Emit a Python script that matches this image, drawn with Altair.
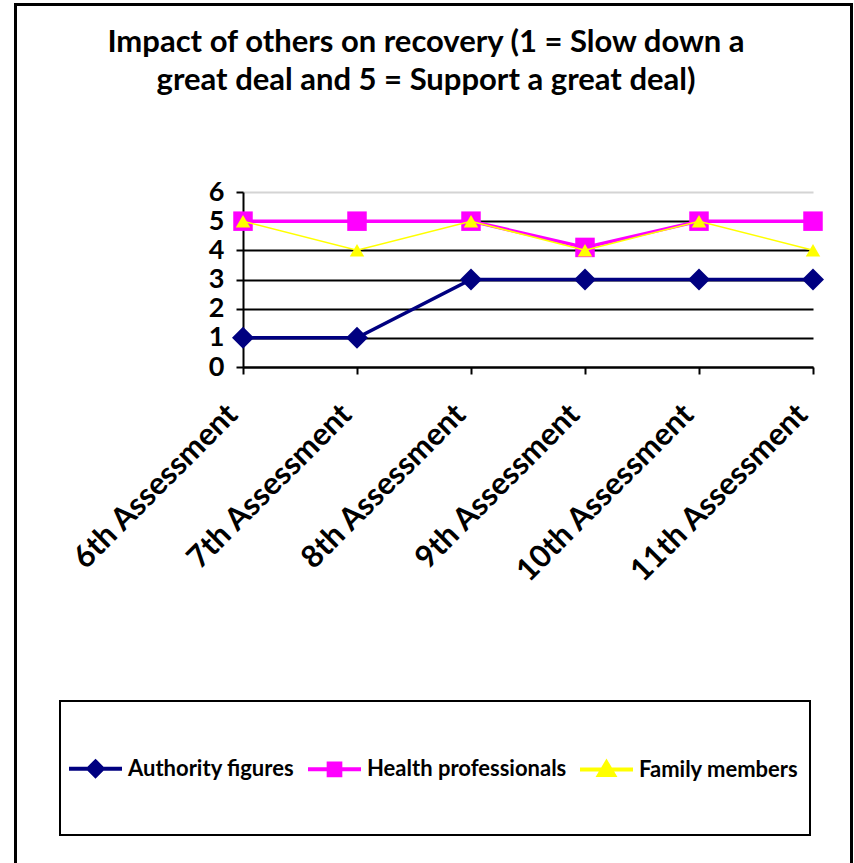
import altair as alt
import pandas as pd

# Ratings per assessment for each group of people
assessments = ["6th Assessment", "7th Assessment", "8th Assessment",
               "9th Assessment", "10th Assessment", "11th Assessment"]
series = ["Authority figures", "Health professionals", "Family members"]
authority = [1, 1, 3, 3, 3, 3]
health = [5, 5, 5, 4.1, 5, 5]
family = [5, 4, 5, 4, 5, 4]
y_ticks = [0, 1, 2, 3, 4, 5, 6]

colors = ["#000080", "#FF00FF", "#FFFF00"]
line_widths = [3.5, 3.5, 1.5]
marker_shapes = ["diamond", "square", "triangle-up"]
marker_sizes = [484, 380, 210]
# legend swatches: a short line with the marker in its middle
legend_paths = [
    "M-1,0H1M0,-0.27L0.27,0L0,0.27L-0.27,0Z",
    "M-1,0H1M-0.22,-0.22H0.22V0.22H-0.22Z",
    "M-1,0H1M0,-0.27L0.28,0.2H-0.28Z",
]
legend_strokes = [4, 4, 2]

FONT = "Lato"

rows = []
for name, vals in zip(series, [authority, health, family]):
    for a, v in zip(assessments, vals):
        rows.append({"assessment": a, "series": name, "value": v})
df = pd.DataFrame(rows)

x_axis = alt.Axis(
    title=None, grid=False, labelAngle=-45, labelAlign="right",
    labelBaseline="top", labelPadding=25, labelOffset=-21, labelLimit=500,
    labelOverlap=False, labelFontSize=31, tickSize=7, tickWidth=2,
    tickColor="black", domainColor="black", domainWidth=2,
)
y_axis = alt.Axis(
    title=None, values=y_ticks, format="d", grid=True, labelOverlap=False,
    gridColor={"condition": {"test": "datum.value === 6", "value": "#d4d4d4"},
               "value": "black"},
    gridWidth=2, labelFontSize=27, labelPadding=12, tickSize=7,
    tickWidth=2, tickColor="black", domainColor="black", domainWidth=2,
)
y_scale = alt.Scale(domain=[0, 6], nice=False, zero=True)
x_enc = alt.X("assessment:N", sort=assessments,
              scale=alt.Scale(type="point", padding=0), axis=x_axis)
y_enc = alt.Y("value:Q", scale=y_scale, axis=y_axis)

layers = []
for i, name in enumerate(series):
    sub = df[df["series"] == name]
    base = alt.Chart(sub).encode(x=x_enc, y=y_enc)
    layers.append(base.mark_line(color=colors[i], strokeWidth=line_widths[i], clip=False))
    layers.append(base.mark_point(filled=True, opacity=1, shape=marker_shapes[i],
                                  size=marker_sizes[i], color=colors[i], clip=False))

# Legend carrier: same series, pushed below the y domain and clipped away
legend_spec = alt.Legend(
    title=None, orient="none", legendX=-176, legendY=548, direction="horizontal",
    columns=3, symbolSize=2809, labelFont=FONT, labelFontSize=22,
    labelFontWeight="bold", labelColor="black", labelOffset=4, columnPadding=5,
    labelLimit=400,
)
legend_layer = alt.Chart(df).transform_calculate(off="-1").mark_point(
    filled=True, opacity=1, clip=True
).encode(
    x=x_enc,
    y=alt.Y("off:Q", scale=y_scale, axis=y_axis),
    fill=alt.Fill("series:N", scale=alt.Scale(domain=series, range=colors), legend=legend_spec),
    stroke=alt.Stroke("series:N", scale=alt.Scale(domain=series, range=colors), legend=legend_spec),
    shape=alt.Shape("series:N", scale=alt.Scale(domain=series, range=legend_paths), legend=legend_spec),
    strokeWidth=alt.StrokeWidth("series:N", scale=alt.Scale(domain=series, range=legend_strokes), legend=legend_spec),
)

frame_src = pd.DataFrame({"k": [0]})
# Outer chart frame
outer = alt.Chart(frame_src).mark_rect(
    fillOpacity=0, stroke="black", strokeWidth=3, clip=False
).encode(
    x=alt.value(-227.5), x2=alt.value(608.5), y=alt.value(-187.5), y2=alt.value(690)
)
# Box around the legend
legend_box = alt.Chart(frame_src).mark_rect(
    fillOpacity=0, stroke="black", strokeWidth=2, clip=False
).encode(
    x=alt.value(-183), x2=alt.value(567), y=alt.value(509), y2=alt.value(643)
)

chart = alt.layer(*layers, legend_layer, outer, legend_box).properties(
    width=570,
    height=175,
    autosize=alt.AutoSizeParams(type="none"),
    padding={"left": 243, "top": 192, "right": 41, "bottom": 496},
    background="white",
    title=alt.Title(
        ["Impact of others on recovery (1 = Slow down a",
         "great deal and 5 = Support a great deal)"],
        font=FONT, fontSize=31, fontWeight="bold", color="black",
        anchor="middle", frame="group", dx=-102, lineHeight=38, offset=-94,
    ),
).configure_view(stroke=None).configure_axis(
    labelFont=FONT, labelFontWeight="bold", labelColor="black",
)

chart.save("out.html", embed_options={"renderer": "svg", "actions": False})
